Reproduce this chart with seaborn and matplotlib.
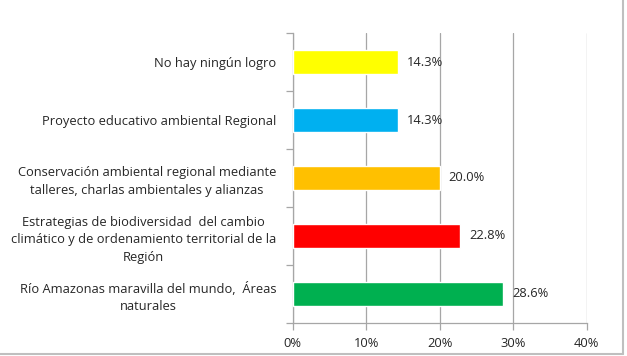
import matplotlib
matplotlib.use("Agg")
import matplotlib.pyplot as plt
from matplotlib.lines import Line2D
import seaborn as sns
import pandas as pd
import numpy as np

categories = [
    "No hay ningún logro",
    "Proyecto educativo ambiental Regional",
    "Conservación ambiental regional mediante\ntalleres, charlas ambientales y alianzas",
    "Estrategias de biodiversidad  del cambio\nclimático y de ordenamiento territorial de la\nRegión",
    "Río Amazonas maravilla del mundo,  Áreas\nnaturales",
]
values = [14.3, 14.3, 20.0, 22.8, 28.6]
colors = ["#FFFF00", "#00B0F0", "#FFC000", "#FF0000", "#00B050"]
xticks = [0, 10, 20, 30, 40]

sns.set_style("white")
plt.rcParams['font.family'] = ['Open Sans', 'DejaVu Sans']

df = pd.DataFrame({"cat": categories, "val": values})
fig = plt.figure(figsize=(6.27, 3.56), dpi=100)
ax = fig.add_axes([0.467, 0.093, 0.469, 0.814])
sns.barplot(data=df, y="cat", x="val", hue="cat", palette=colors, order=categories,
            hue_order=categories, orient="h", width=0.4, legend=False, ax=ax,
            saturation=1, zorder=3)

fs = 9.3
ax.set_xlim(0, 40)
ax.set_ylim(len(categories) - 0.5, -0.5)
ax.set_xticks(xticks)
ax.set_xticklabels([f"{t}%" for t in xticks], fontsize=fs, color="#262626")
ax.grid(axis="x", color="#A6A6A6", linewidth=0.9, zorder=0)
ax.set_xlabel("")
ax.set_ylabel("")
ax.set_yticks(range(len(categories)))
ax.set_yticklabels(categories, fontsize=fs, color="#262626", multialignment="center",
                   linespacing=1.45)
ax.set_yticks(np.arange(-0.5, len(categories), 1), minor=True)
ax.tick_params(axis="y", which="major", length=0, pad=12)
ax.tick_params(axis="y", which="minor", length=5, color="#A6A6A6", width=0.9, left=True)
ax.tick_params(axis="x", length=5, color="#A6A6A6", width=0.9, bottom=True, pad=5)
for s in ["top", "right"]:
    ax.spines[s].set_visible(False)
for s in ["left", "bottom"]:
    ax.spines[s].set_color("#A6A6A6")
    ax.spines[s].set_linewidth(0.9)

for i, v in enumerate(values):
    ax.text(v + 1.2, i, f"{v:.1f}%", va="center", ha="left", fontsize=fs, color="#262626")

# outer frame: only right and bottom edges visible
fig.lines.append(Line2D([0.9935, 0.9935], [0.006, 1.0], transform=fig.transFigure,
                        color="#BFBFBF", linewidth=1.5))
fig.lines.append(Line2D([0.0, 0.9935], [0.006, 0.006], transform=fig.transFigure,
                        color="#BFBFBF", linewidth=1.5))

fig.savefig("out.png", dpi=100)
